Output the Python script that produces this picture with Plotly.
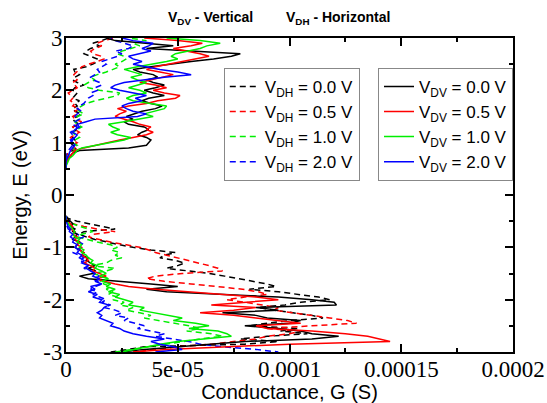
import numpy as np
import plotly.graph_objects as go

# Energy grids (eV)
E_upper = np.round(np.linspace(0.50, 3.00, 51), 2)      # conduction band, ascending
E_lower = np.round(np.linspace(-0.40, -3.00, 53), 2)    # valence band, descending

# Conductance values in units of 1e-5 S
# --- V_DV (vertical, solid) ---
DV00_up = [0, 0, 0, 0.05, 0.1, 0.2, 0.3, 0.6, 2.8, 3.6,
           3.7, 3.8, 3.6, 3.2, 3.4, 3.7, 3.5, 2.8, 2.6, 3.0,
           2.7, 3.1, 3.4, 4.0, 4.3, 3.8, 3.4, 3.7, 4.4, 3.9,
           3.5, 4.0, 4.4, 3.9, 3.6, 4.1, 3.9, 3.3, 3.0, 3.8,
           4.6, 5.6, 6.6, 7.4, 7.8, 5.5, 3.6, 4.8, 3.4, 2.2,
           1.8]
DV05_up = [0, 0, 0, 0.05, 0.1, 0.2, 0.3, 0.4, 0.8, 1.3,
           1.8, 2.4, 3.0, 3.6, 3.9, 3.6, 3.8, 3.3, 3.0, 2.6,
           2.2, 2.4, 2.7, 2.3, 2.8, 3.6, 4.1, 4.9, 5.1, 4.4,
           3.9, 4.5, 4.0, 3.3, 3.8, 4.4, 4.8, 4.2, 3.6, 4.0,
           4.6, 5.2, 5.9, 6.4, 6.0, 5.4, 4.8, 5.6, 6.1, 5.0,
           3.5]
DV10_up = [0, 0, 0.05, 0.1, 0.15, 0.3, 0.4, 0.5, 0.7, 1.3,
           1.9, 2.6, 2.9, 2.3, 2.0, 2.4, 2.1, 1.9, 2.6, 3.3,
           3.9, 3.5, 4.0, 4.4, 4.5, 3.8, 3.0, 2.7, 3.0, 3.6,
           3.3, 2.8, 3.2, 3.6, 3.2, 2.9, 3.4, 3.0, 2.6, 3.2,
           3.9, 4.5, 5.0, 4.7, 4.9, 5.4, 6.0, 6.3, 6.9, 6.0,
           4.5]
DV20_up = [0, 0, 0, 0, 0.05, 0.1, 0.15, 0.2, 0.3, 0.4,
           0.3, 0.2, 0.4, 0.5, 0.3, 0.4, 0.6, 0.5, 0.9, 1.3,
           3.2, 3.6, 3.0, 2.7, 2.5, 2.8, 3.4, 3.1, 3.6, 3.0,
           2.4, 2.0, 2.2, 2.6, 3.5, 4.4, 5.6, 5.0, 4.2, 3.6,
           3.0, 3.4, 3.0, 2.8, 3.3, 3.8, 3.4, 3.7, 3.9, 3.0,
           2.5]

DV00_lo = [0, 0.05, 0.2, 0.3, 0.2, 0.4, 0.3, 0.5, 0.4, 0.3,
           0.6, 0.5, 0.4, 0.6, 0.8, 0.7, 1.0, 0.9, 1.1, 1.3,
           1.0, 1.3, 1.2, 0.6, 1.0, 2.5, 3.8, 5.0, 3.6, 4.5,
           7.0, 9.5, 11.0, 12.0, 12.1, 8.5, 9.5, 7.0, 8.5, 9.0,
           10.5, 10.0, 8.0, 9.5, 10.5, 11.0, 12.2, 11.0, 8.0, 6.5,
           5.0, 3.5, 2.5]
DV05_lo = [0, 0, 0.1, 0.2, 0.3, 0.2, 0.4, 0.3, 0.5, 0.4,
           0.6, 0.5, 0.7, 0.6, 0.8, 0.7, 0.9, 1.0, 0.8, 1.1,
           1.3, 1.2, 1.5, 1.8, 1.4, 1.7, 2.2, 2.8, 4.0, 5.5,
           7.0, 8.5, 9.5, 8.0, 6.5, 8.5, 7.5, 6.0, 7.5, 8.5,
           9.5, 10.5, 8.5, 9.0, 11.0, 12.5, 13.5, 14.0, 14.5, 10.0,
           7.0, 4.5, 3.0]
DV10_lo = [0, 0, 0.05, 0.1, 0.2, 0.3, 0.4, 0.3, 0.4, 0.6,
           0.5, 0.7, 0.6, 0.8, 0.7, 0.9, 1.0, 1.2, 1.1, 1.4,
           1.3, 1.6, 1.8, 1.5, 1.9, 1.6, 2.0, 1.8, 2.2, 1.9,
           2.4, 2.2, 2.6, 3.0, 2.8, 3.5, 3.3, 4.0, 4.6, 5.2,
           4.8, 5.8, 6.4, 5.5, 6.8, 7.2, 7.4, 6.2, 5.0, 4.2,
           3.6, 3.0, 2.5]
DV20_lo = [0, 0, 0, 0.05, 0.1, 0.2, 0.15, 0.3, 0.2, 0.35,
           0.3, 0.5, 0.4, 0.6, 0.5, 0.7, 0.6, 0.8, 0.7, 1.0,
           0.9, 1.1, 1.3, 1.2, 1.5, 1.3, 1.6, 1.1, 1.3, 1.0,
           1.4, 1.2, 1.6, 1.5, 1.9, 1.7, 1.6, 1.4, 1.6, 1.5,
           1.8, 2.1, 2.0, 2.4, 2.6, 3.0, 3.6, 4.4, 3.8, 4.2,
           4.8, 5.2, 4.0]

# --- V_DH (horizontal, dashed) ---
DH00_up = [0, 0, 0, 0, 0, 0, 0.1, 0.3, 0.5, 0.3,
           0.2, 0.4, 0.3, 0.2, 0.3, 0.5, 0.3, 0.6, 0.4, 0.3,
           0.5, 0.7, 0.4, 0.3, 0.5, 0.4, 0.6, 0.3, 0.4, 0.5,
           0.3, 0.4, 0.8, 0.5, 0.3, 0.4, 0.6, 0.4, 0.35, 0.9,
           1.2, 1.4, 1.4, 1.1, 0.8, 0.9, 1.1, 1.5, 1.2, 1.6,
           1.9]
DH05_up = [0, 0, 0, 0, 0, 0, 0.1, 0.2, 0.4, 0.3,
           0.5, 0.3, 0.2, 0.4, 0.6, 0.4, 0.3, 0.5, 0.7, 0.4,
           0.3, 0.5, 0.4, 0.6, 0.3, 0.4, 0.2, 0.3, 0.2, 0.1,
           0.3, 0.5, 0.4, 0.3, 0.5, 0.4, 0.35, 0.5, 0.6, 0.7,
           1.0, 1.4, 1.7, 1.6, 1.2, 1.1, 1.3, 1.6, 1.4, 1.7,
           2.2]
DH10_up = [0, 0, 0, 0, 0, 0.1, 0.2, 0.4, 0.3, 0.5,
           0.3, 0.4, 0.6, 0.4, 0.3, 0.5, 0.7, 0.5, 0.4, 0.6,
           0.5, 0.8, 0.6, 0.5, 0.7, 0.9, 1.3, 1.8, 2.3, 2.4,
           1.5, 1.0, 0.8, 1.0, 1.3, 1.1, 1.4, 1.8, 2.1, 2.4,
           2.2, 2.5, 2.7, 2.6, 2.3, 2.5, 2.9, 3.3, 3.0, 3.6,
           2.8]
DH20_up = [0, 0, 0, 0, 0, 0, 0, 0.1, 0.2, 0.3,
           0.2, 0.3, 0.4, 0.3, 0.2, 0.4, 0.5, 0.3, 0.4, 0.6,
           0.4, 0.5, 0.7, 0.5, 0.6, 0.8, 0.9, 1.0, 1.2, 1.1,
           1.4, 1.3, 1.6, 1.5, 1.2, 1.1, 1.3, 1.5, 1.4, 1.6,
           1.8, 1.6, 2.0, 2.3, 2.5, 2.2, 2.8, 3.0, 2.6, 2.2,
           2.0]

DH00_lo = [0, 0.1, 0.5, 1.0, 1.6, 2.2, 0.8, 0.6, 0.9, 1.3,
           1.8, 2.4, 3.0, 3.8, 4.9, 4.4, 4.2, 4.9, 5.3, 5.0,
           4.5, 5.6, 6.4, 7.1, 7.7, 8.4, 9.0, 9.4, 8.2, 9.5,
           10.3, 11.3, 11.8, 10.5, 9.8, 8.6, 9.3, 10.2, 11.0, 11.5,
           10.0, 9.0, 8.2, 10.4, 9.6, 10.8, 9.0, 7.8, 9.5, 8.0,
           3.5, 2.8, 2.0]
DH05_lo = [0, 0, 0.1, 0.3, 0.8, 1.4, 2.2, 1.2, 1.0, 1.5,
           2.0, 2.7, 3.3, 3.7, 4.0, 4.5, 5.0, 5.4, 5.9, 6.4,
           6.8, 7.0, 5.2, 4.0, 3.6, 4.4, 5.6, 6.8, 7.9, 8.6,
           9.0, 8.0, 7.2, 8.0, 8.8, 9.5, 9.3, 10.2, 11.0, 11.8,
           12.6, 13.0, 11.0, 9.0, 10.5, 10.0, 9.0, 8.5, 7.5, 6.5,
           5.0, 4.0, 3.0]
DH10_lo = [0, 0, 0.1, 0.3, 0.6, 1.0, 1.2, 0.7, 0.5, 0.9,
           1.4, 2.0, 2.3, 2.0, 2.4, 2.2, 2.5, 2.0, 1.8, 1.1,
           2.2, 1.8, 1.2, 1.6, 1.9, 1.5, 1.7, 2.0, 1.8, 2.1,
           1.9, 2.3, 2.1, 2.6, 2.4, 3.0, 2.7, 3.3, 3.8, 3.5,
           4.2, 4.8, 5.5, 6.0, 5.4, 6.5, 7.0, 6.0, 5.2, 4.5,
           3.8, 3.0, 2.2]
DH20_lo = [0, 0, 0, 0, 0.05, 0.1, 0.3, 0.5, 0.8, 0.5,
           0.6, 0.8, 0.7, 0.5, 0.3, 0.6, 0.8, 0.6, 0.9, 1.0,
           0.8, 1.1, 1.3, 1.5, 1.2, 1.4, 1.6, 1.3, 1.1, 1.4,
           1.2, 1.5, 1.8, 1.6, 2.0, 1.7, 2.2, 2.5, 2.2, 2.8,
           2.6, 3.1, 3.5, 3.2, 3.8, 4.4, 4.0, 4.8, 5.5, 6.0,
           7.0, 8.5, 9.5]

voltages = ["0.0", "0.5", "1.0", "2.0"]
colors = ["#000000", "#ff0000", "#00ee00", "#0000ff"]

x_tickvals = [0, 5e-5, 1e-4, 1.5e-4, 2e-4]
x_ticktext = ["0", "5e-05", "0.0001", "0.00015", "0.0002"]
y_tickvals = [-3, -2, -1, 0, 1, 2, 3]
y_ticktext = ["-3", "-2", "-1", "0", "1", "2", "3"]

SCALE = 1e-5


def combine(lo, up):
    g = [v * SCALE for v in lo] + [None] + [v * SCALE for v in up]
    e = list(E_lower) + [None] + list(E_upper)
    return g, e


fig = go.Figure()

dh_series = [(DH00_lo, DH00_up), (DH05_lo, DH05_up), (DH10_lo, DH10_up), (DH20_lo, DH20_up)]
dv_series = [(DV00_lo, DV00_up), (DV05_lo, DV05_up), (DV10_lo, DV10_up), (DV20_lo, DV20_up)]

for (lo, up), v, c in zip(dh_series, voltages, colors):
    g, e = combine(lo, up)
    fig.add_trace(go.Scatter(x=g, y=e, mode="lines", connectgaps=False,
                             line=dict(color=c, width=1.5, dash="6px,4px"),
                             name=f"V<sub>DH</sub> = {v} V", legend="legend"))

for (lo, up), v, c in zip(dv_series, voltages, colors):
    g, e = combine(lo, up)
    fig.add_trace(go.Scatter(x=g, y=e, mode="lines", connectgaps=False,
                             line=dict(color=c, width=1.5),
                             name=f"V<sub>DV</sub> = {v} V", legend="legend2"))

serif = "Liberation Serif"
sans = "Liberation Sans"
tickfont = dict(family=serif, size=23, color="black")
titlefont = dict(family=sans, size=20, color="black")
legfont = dict(family=sans, size=17, color="black")

fig.update_layout(
    width=547, height=403,
    margin=dict(l=66, r=34, t=38, b=51),
    paper_bgcolor="white", plot_bgcolor="white",
    font=dict(family=serif, size=23, color="black"),
    showlegend=True,
    legend=dict(x=0.353, y=0.905, xanchor="left", yanchor="top",
                bgcolor="white", bordercolor="#888888", borderwidth=1,
                font=legfont, itemwidth=30, tracegroupgap=0),
    legend2=dict(x=0.698, y=0.905, xanchor="left", yanchor="top",
                 bgcolor="white", bordercolor="#888888", borderwidth=1,
                 font=legfont, itemwidth=30, tracegroupgap=0),
    xaxis=dict(range=[0, 2e-4], tickmode="array", tickvals=x_tickvals, ticktext=x_ticktext,
               ticks="inside", ticklen=8, tickwidth=1.5, tickcolor="black",
               ticklabelstandoff=-5,
               minor=dict(tickmode="linear", tick0=0, dtick=2.5e-5, ticks="inside",
                          ticklen=4, tickwidth=1.5, tickcolor="black"),
               showline=True, linecolor="black", linewidth=2, mirror="ticks",
               showgrid=False, zeroline=False, tickfont=tickfont,
               title=dict(text="Conductance, G (S)", font=titlefont, standoff=0),
               automargin=False),
    yaxis=dict(range=[-3, 3], tickmode="array", tickvals=y_tickvals, ticktext=y_ticktext,
               ticks="inside", ticklen=8, tickwidth=1.5, tickcolor="black",
               ticklabelstandoff=-3,
               minor=dict(tickmode="linear", tick0=-3, dtick=0.5, ticks="inside",
                          ticklen=4, tickwidth=1.5, tickcolor="black"),
               showline=True, linecolor="black", linewidth=2, mirror="ticks",
               showgrid=False, zeroline=False, tickfont=tickfont,
               title=dict(text="Energy, E (eV)", font=titlefont, standoff=10),
               automargin=False),
    annotations=[
        dict(text="<b>V<sub>DV</sub> - Vertical</b>", xref="paper", yref="paper",
             x=0.224, y=1.064, xanchor="left", yanchor="middle", showarrow=False,
             font=dict(family=sans, size=14, color="black")),
        dict(text="<b>V<sub>DH</sub> - Horizontal</b>", xref="paper", yref="paper",
             x=0.488, y=1.064, xanchor="left", yanchor="middle", showarrow=False,
             font=dict(family=sans, size=14, color="black")),
    ],
)

fig.write_html("out.html")
